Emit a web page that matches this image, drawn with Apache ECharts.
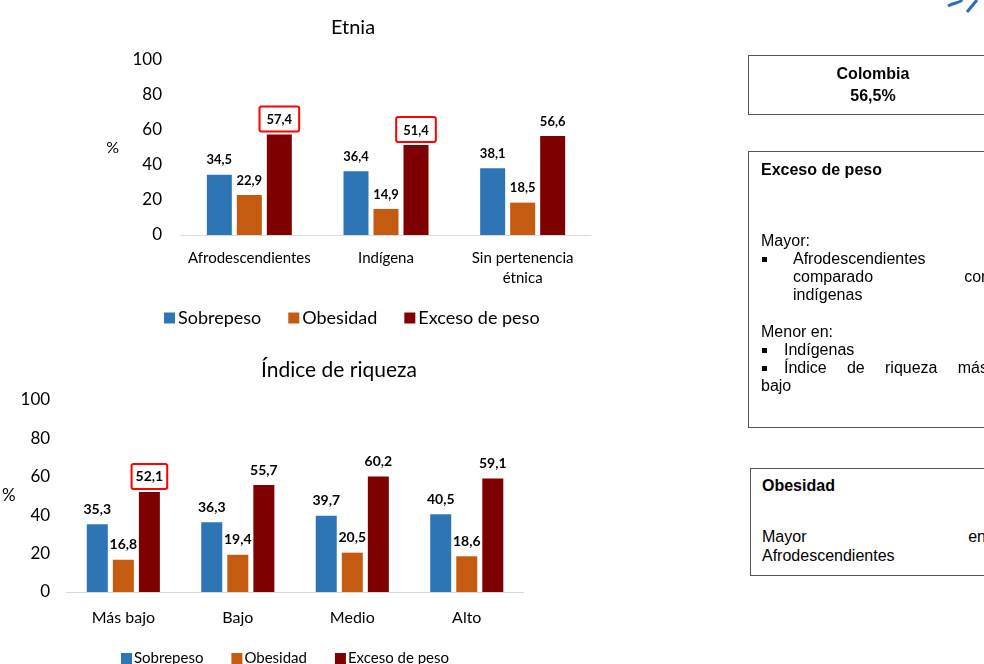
<!DOCTYPE html>
<html>
<head>
<meta charset="utf-8">
<script src="https://cdn.jsdelivr.net/npm/echarts@6/dist/echarts.min.js"></script>
<style>
  html, body { margin: 0; padding: 0; background: #fff; overflow: hidden; }
  #chart { position: absolute; left: 0; top: 0; width: 984px; height: 664px; }
  .box { position: absolute; border: 1px solid #555; background: #fff; box-sizing: border-box; }
  .ln { position: absolute; height: 18px; line-height: 18px; white-space: nowrap;
        font-family: 'Liberation Sans', Arial, sans-serif; font-size: 16px; color: #000; }
  .ln.b { font-weight: bold; }
  .ln.j { display: flex; justify-content: space-between; }
  .bul { position: absolute; width: 5px; height: 5px; background: #000; }
</style>
</head>
<body>
<div id="chart"></div>

<div class="box" style="left:748px;top:55px;width:250px;height:60px;"></div>
<div class="box" style="left:748px;top:151px;width:250px;height:277px;"></div>
<div class="box" style="left:750px;top:468px;width:250px;height:108px;"></div>
<div id="notes"></div>

<script>
// Etnia
const etniaCats = ['Afrodescendientes', 'Indígena', 'Sin pertenencia\nétnica']
const etniaSobrepeso = [34.5, 36.4, 38.1]
const etniaObesidad = [22.9, 14.9, 18.5]
const etniaExceso = [57.4, 51.4, 56.6]
const etniaMarcados = [0, 1]

// Índice de riqueza
const riquezaCats = ['Más bajo', 'Bajo', 'Medio', 'Alto']
const riquezaSobrepeso = [35.3, 36.3, 39.7, 40.5]
const riquezaObesidad = [16.8, 19.4, 20.5, 18.6]
const riquezaExceso = [52.1, 55.7, 60.2, 59.1]
const riquezaMarcados = [0]

const yTicks = [0, 20, 40, 60, 80, 100]
const seriesNames = ['Sobrepeso', 'Obesidad', 'Exceso de peso']
const colors = ['#2E75B6', '#C55A11', '#7F0000']
const font = 'Lato, "Open Sans", sans-serif'

// recuadros de texto: [texto, x, y centro, estilo, x derecha si justificado]
const notas = [
  ['Colombia', 873, 74, 'bc'],
  ['56,5%', 873, 96, 'bc'],
  ['Exceso de peso', 761, 170, 'b'],
  ['Mayor:', 761, 241, ''],
  ['*', 762, 259, 'bul'],
  ['Afrodescendientes', 793, 259, ''],
  ['comparado con', 793, 277, 'j', 990],
  ['indígenas', 793, 295, ''],
  ['Menor en:', 761, 332, ''],
  ['*', 762, 350, 'bul'],
  ['Indígenas', 784, 350, ''],
  ['*', 762, 368, 'bul'],
  ['Índice de riqueza más', 784, 368, 'j', 988],
  ['bajo', 761, 386, ''],
  ['Obesidad', 762, 486, 'b'],
  ['Mayor en', 762, 537, 'j', 986],
  ['Afrodescendientes', 762, 556, '']
]

const notes = document.getElementById('notes')
notas.forEach(n => {
  const d = document.createElement('div')
  if (n[3] === 'bul') {
    d.className = 'bul'
    d.style.left = n[1] + 'px'
    d.style.top = (n[2] - 2) + 'px'
    notes.appendChild(d)
    return
  }
  d.className = 'ln' + (n[3].indexOf('b') >= 0 ? ' b' : '') + (n[3] === 'j' ? ' j' : '')
  d.style.top = (n[2] - 9) + 'px'
  if (n[3] === 'bc') {
    d.style.left = (n[1] - 100) + 'px'
    d.style.width = '200px'
    d.style.textAlign = 'center'
    d.textContent = n[0]
  } else if (n[3] === 'j') {
    d.style.left = n[1] + 'px'
    d.style.width = (n[4] - n[1]) + 'px'
    n[0].split(' ').forEach(w => {
      const s = document.createElement('span')
      s.textContent = w
      d.appendChild(s)
    })
  } else {
    d.style.left = n[1] + 'px'
    d.textContent = n[0]
  }
  notes.appendChild(d)
})

const fmt = p => String(p.value).replace('.', ',')

function boxed(values, marked, pad) {
  return values.map((v, i) => marked.indexOf(i) >= 0 ? {
    value: v,
    label: {
      borderColor: '#FF0000',
      borderWidth: 2,
      borderRadius: 2,
      padding: pad,
      distance: 3
    }
  } : v)
}

function barSeries(idx, data, width, gap, fs) {
  return seriesNames.map((name, k) => ({
    name: name,
    type: 'bar',
    xAxisIndex: idx,
    yAxisIndex: idx,
    barWidth: width,
    barGap: gap,
    itemStyle: { color: colors[k] },
    label: {
      show: true,
      position: 'top',
      distance: 8,
      formatter: fmt,
      fontFamily: font,
      fontWeight: 'bold',
      fontSize: fs,
      color: '#000'
    },
    data: data[k]
  }))
}

const chart = echarts.init(document.getElementById('chart'), null, { renderer: 'canvas' })
chart.setOption({
  animation: false,
  textStyle: { fontFamily: font },
  title: [
    { text: 'Etnia', left: 348, top: 13, textAlign: 'center', textStyle: { fontFamily: font, fontSize: 20, fontWeight: 'normal', color: '#000' } },
    { text: 'Índice de riqueza', left: 334, top: 355, textAlign: 'center', textStyle: { fontFamily: font, fontSize: 21, fontWeight: 'normal', color: '#000' } }
  ],
  legend: [
    {
      data: seriesNames, left: 159, top: 304, itemWidth: 11, itemHeight: 11, itemGap: 27, icon: 'rect',
      textStyle: { fontFamily: font, fontSize: 18, color: '#000', padding: [0, 0, 0, -2] }
    },
    {
      data: seriesNames, left: 121, top: 651, padding: 0, itemWidth: 11, itemHeight: 11, itemGap: 28, icon: 'rect',
      textStyle: { fontFamily: font, fontSize: 15, color: '#000', padding: [0, 0, 0, -3] }
    }
  ],
  grid: [
    { left: 181, top: 60, width: 410, height: 175 },
    { left: 64, top: 400, width: 460, height: 192 }
  ],
  xAxis: [
    {
      type: 'category', gridIndex: 0, data: etniaCats,
      axisLine: { lineStyle: { color: '#D9D9D9' } }, axisTick: { show: false },
      axisLabel: { interval: 0, fontFamily: font, fontSize: 15, color: '#000', margin: 13, lineHeight: 20 }
    },
    {
      type: 'category', gridIndex: 1, data: riquezaCats,
      axisLine: { lineStyle: { color: '#D9D9D9' } }, axisTick: { show: false },
      axisLabel: { interval: 0, fontFamily: font, fontSize: 16, color: '#000', margin: 18 }
    }
  ],
  yAxis: [
    {
      type: 'value', gridIndex: 0, min: yTicks[0], max: yTicks[yTicks.length - 1], interval: 20,
      name: '%', nameLocation: 'middle', nameGap: 62, nameRotate: 0,
      nameTextStyle: { fontFamily: font, fontSize: 16, color: '#000', padding: [19, 0, 0, 0] },
      axisLine: { show: false }, axisTick: { show: false }, splitLine: { show: false },
      axisLabel: { fontFamily: font, fontSize: 17, color: '#000', margin: 19 }
    },
    {
      type: 'value', gridIndex: 1, min: yTicks[0], max: yTicks[yTicks.length - 1], interval: 20,
      name: '%', nameLocation: 'middle', nameGap: 45, nameRotate: 0,
      nameTextStyle: { fontFamily: font, fontSize: 17, color: '#000' },
      axisLine: { show: false }, axisTick: { show: false }, splitLine: { show: false },
      axisLabel: { fontFamily: font, fontSize: 17, color: '#000', margin: 16 }
    }
  ],
  series: [].concat(
    barSeries(0, [etniaSobrepeso, etniaObesidad, boxed(etniaExceso, etniaMarcados, [7, 7, 5, 7])], 25, '20%', 13),
    barSeries(1, [riquezaSobrepeso, riquezaObesidad, boxed(riquezaExceso, riquezaMarcados, [6, 4, 5, 4])], 21, '24%', 14)
  ),
  graphic: [
    {
      type: 'bezierCurve',
      shape: { x1: 948, y1: 6, cpx1: 955, cpy1: 2, cpx2: 960, cpy2: 3, x2: 962, y2: 0 },
      style: { stroke: '#2E6DB4', lineWidth: 3, fill: null }
    },
    {
      type: 'line',
      shape: { x1: 977, y1: 0, x2: 967, y2: 12 },
      style: { stroke: '#2E6DB4', lineWidth: 3 }
    }
  ]
})
</script>
</body>
</html>
